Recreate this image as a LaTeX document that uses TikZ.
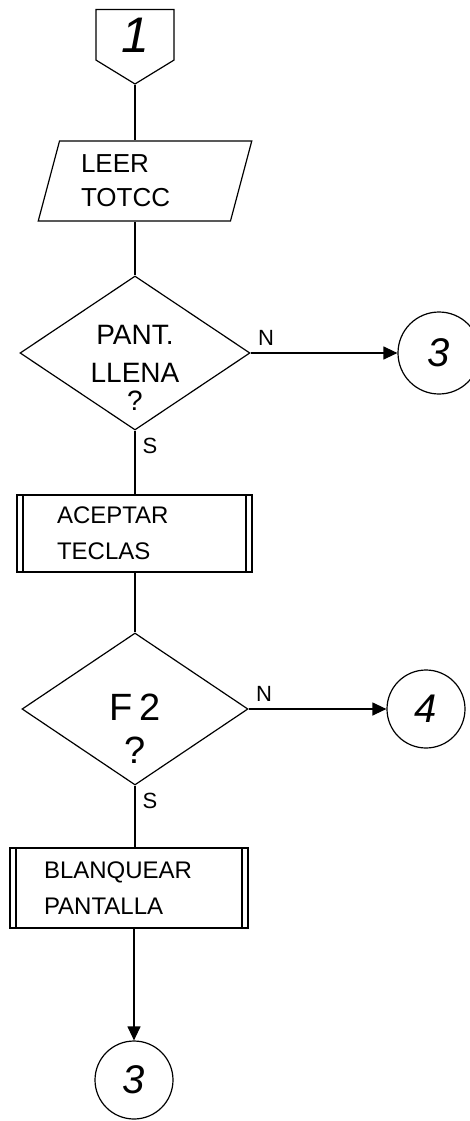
\documentclass[tikz,border=0pt]{standalone}
\usepackage{fontspec}
\setmainfont{Liberation Sans}
\usetikzlibrary{shapes.geometric,shapes.symbols,arrows.meta,positioning}
\newcommand{\bajado}[2]{\raisebox{#1}[0pt][0pt]{\begin{tabular}{@{}c@{}}#2\end{tabular}}}
\tikzstyle{pagina} = [draw, signal, signal to=south, signal pointer angle=117, minimum width=78pt, minimum height=59pt, inner sep=0pt, font=\fontsize{50}{50}\selectfont\itshape]
\tikzstyle{entrada} = [draw, trapezium, trapezium left angle=73, trapezium right angle=107, trapezium stretches=true, minimum width=214pt, minimum height=80pt, text width=128pt, align=left, inner sep=0pt, font=\fontsize{26}{34}\selectfont]
\tikzstyle{decision} = [draw, diamond, inner sep=0pt, font=\fontsize{28}{34}\selectfont]
\tikzstyle{subproceso} = [draw, rectangle, inner sep=0pt, align=left, font=\fontsize{24}{36}\selectfont,
  path picture={\draw ([xshift=6pt]path picture bounding box.north west) -- ([xshift=6pt]path picture bounding box.south west)
    ([xshift=-6pt]path picture bounding box.north east) -- ([xshift=-6pt]path picture bounding box.south east);}]
\tikzstyle{conector} = [draw, circle, inner sep=0pt, font=\fontsize{40}{40}\selectfont\itshape]
\tikzstyle{etiqueta} = [inner sep=0pt, font=\fontsize{22}{22}\selectfont]
\tikzstyle{flecha} = [-{Triangle[length=14pt,width=13pt]}]

\begin{document}
\begin{tikzpicture}[x=1pt, y=-1pt, line width=1.2pt]
\useasboundingbox (0,0) rectangle (469,1121);

\node[pagina, anchor=north] (ini) at (135,9) {1};
\node[entrada] (leer) at (145,181) {LEER\\TOTCC};
\node[decision, minimum width=230pt, minimum height=154pt] (pant) at (135,353) {\bajado{-24pt}{PANT.\\[4pt]LLENA\\[-6pt]?}};
\node[conector, minimum size=82pt] (c3a) at (439,353) {3};
\node[subproceso, minimum width=235pt, minimum height=77pt, text width=155pt] (acep) at (134.5,533.5) {ACEPTAR\\TECLAS};
\node[decision, minimum width=226pt, minimum height=152pt, font=\fontsize{38}{43}\selectfont] (f2) at (135,709) {\bajado{-31pt}{F\,2\\?}};
\node[conector, minimum size=78pt] (c4) at (426,709) {4};
\node[subproceso, minimum width=238pt, minimum height=80pt, text width=170pt] (blq) at (129,888) {BLANQUEAR\\PANTALLA};
\node[conector, minimum size=78pt] (c3b) at (134,1080) {3};

\draw (ini.south) -- (ini.south |- leer.north);
\draw (pant.north |- leer.south) -- (pant.north);
\draw (pant.south) -- node[etiqueta, at start, anchor=north west, xshift=7pt, yshift=-7pt] {S} (pant.south |- acep.north);
\draw[flecha] (pant.east) -- node[etiqueta, at start, anchor=south west, xshift=7pt, yshift=7pt] {N} (c3a);
\draw (acep.south -| f2.north) -- (f2.north);
\draw (f2.south) -- node[etiqueta, at start, anchor=north west, xshift=7pt, yshift=-7pt] {S} (f2.south |- blq.north);
\draw[flecha] (f2.east) -- node[etiqueta, at start, anchor=south west, xshift=7pt, yshift=7pt] {N} (c4);
\draw[flecha] (c3b.north |- blq.south) -- (c3b.north);
\end{tikzpicture}
\end{document}
